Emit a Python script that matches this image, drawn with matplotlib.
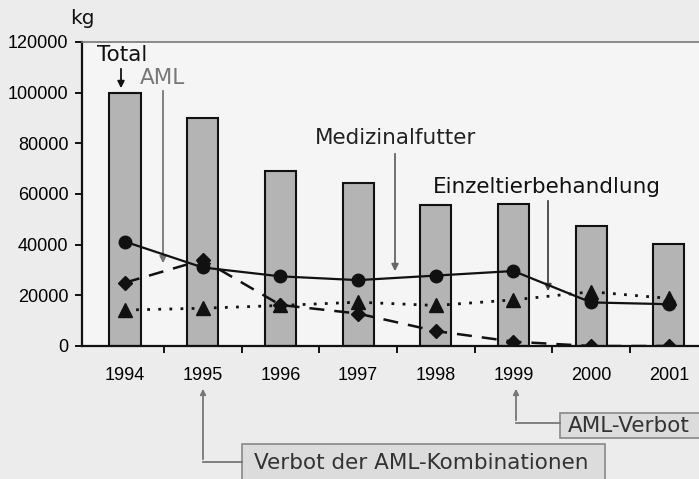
import numpy as np
import matplotlib.pyplot as plt
from matplotlib.patches import Rectangle

# Daten (kg pro Jahr)
jahre = ["1994", "1995", "1996", "1997", "1998", "1999", "2000", "2001"]
total = [100000, 90000, 69000, 64500, 55500, 56000, 47500, 40300]
medizinalfutter = [41200, 31000, 27500, 26000, 27800, 29600, 17200, 16500]
einzeltier = [14200, 14900, 16000, 17300, 16000, 18200, 21400, 18800]
aml = [25000, 34000, 16200, 12800, 5900, 1700, 0, 0]

W, H = 699, 479
fig = plt.figure(figsize=(W / 100, H / 100), dpi=100, facecolor="#ececec")

# Achse in Pixeln platziert (rechts abgeschnitten wie im Scan)
x0_px, step_px = 125, 77.7
left_px = x0_px - 0.55 * step_px
right_px = x0_px + 7.5 * step_px
ax = fig.add_axes([left_px / W, 1 - 346 / H, (right_px - left_px) / W, 304 / H])
ax.set_facecolor("#f5f5f5")

x = np.arange(len(jahre))
ax.bar(x, total, width=0.4, color="#b4b4b4", edgecolor="#111111", linewidth=1.5, zorder=2)

ax.plot(x, medizinalfutter, "-", color="#111111", lw=1.6, marker="o", ms=9, zorder=4)
ax.plot(x, einzeltier, color="#111111", lw=2, ls=(0, (1, 3)), marker="^", ms=10, zorder=3)
ax.plot(x, aml, color="#111111", lw=1.8, ls=(0, (6, 4)), marker="D", ms=7, zorder=3)

ax.set_xlim(-0.55, 7.5)
ax.set_ylim(0, 120000)
ax.set_yticks(np.arange(0, 120001, 20000))
ax.set_yticklabels([str(v) for v in range(0, 120001, 20000)], family="Liberation Sans", fontsize=13)
ax.set_xticks(x)
ax.set_xticklabels(jahre, family="Liberation Sans", fontsize=13)
ax.set_xticks(x[:-1] + 0.5, minor=True)
ax.tick_params(axis="x", which="major", length=0, pad=15)
ax.tick_params(axis="x", which="minor", length=5, width=1.3, direction="out")
ax.tick_params(axis="y", length=5, width=1.3, direction="out", pad=5)

for s in ["left", "bottom"]:
    ax.spines[s].set_linewidth(1.6)
    ax.spines[s].set_color("#111111")
ax.spines["top"].set_color("#777777")
ax.spines["top"].set_linewidth(1.2)
ax.spines["right"].set_visible(False)

# Beschriftungen im Diagramm
fs = 15.5
fig.text(70 / W, 1 - 18 / H, "kg", fontsize=14.5, va="center", ha="left", color="#111111")


def px(xp, yp):
    return (xp, H - yp)


def pfeil(x_px, y_von, y_bis, farbe, ms=10):
    ax.annotate("", xy=px(x_px, y_bis), xycoords="figure pixels", xytext=px(x_px, y_von),
                textcoords="figure pixels",
                arrowprops=dict(arrowstyle="-|>", color=farbe, lw=1.3, mutation_scale=ms))


fig.text(97 / W, 1 - 55 / H, "Total", fontsize=fs, va="center", ha="left", color="#111111")
pfeil(121, 66, 91, "#111111")

fig.text(140 / W, 1 - 78 / H, "AML", fontsize=fs, va="center", ha="left", color="#777777")
pfeil(163, 88, 266, "#777777")

fig.text(315 / W, 1 - 138 / H, "Medizinalfutter", fontsize=fs, va="center", ha="left", color="#222222")
pfeil(395, 151, 274, "#666666")

fig.text(433 / W, 1 - 187 / H, "Einzeltierbehandlung", fontsize=fs, va="center", ha="left", color="#111111")
pfeil(548, 198, 294, "#444444")

# Kästen unten
def kasten(x1, y1, x2, y2):
    fig.add_artist(Rectangle((x1 / W, 1 - y2 / H), (x2 - x1) / W, (y2 - y1) / H,
                             transform=fig.transFigure, fc="#dcdcdc", ec="#888888", lw=1.2))


kasten(560, 413, 720, 438)
fig.text(568 / W, 1 - 426 / H, "AML-Verbot", fontsize=fs, va="center", ha="left", color="#333333")
pfeil(516, 423, 386, "#777777", ms=8)
fig.add_artist(plt.Line2D([516 / W, 560 / W], [1 - 423 / H, 1 - 423 / H], color="#777777", lw=1.3))

kasten(242, 444, 605, 490)
fig.text(254 / W, 1 - 463 / H, "Verbot der AML-Kombinationen", fontsize=fs, va="center", ha="left",
         color="#333333")
pfeil(203, 462, 386, "#777777", ms=8)
fig.add_artist(plt.Line2D([203 / W, 242 / W], [1 - 462 / H, 1 - 462 / H], color="#777777", lw=1.3))

fig.savefig("out.png", dpi=100, facecolor=fig.get_facecolor())
